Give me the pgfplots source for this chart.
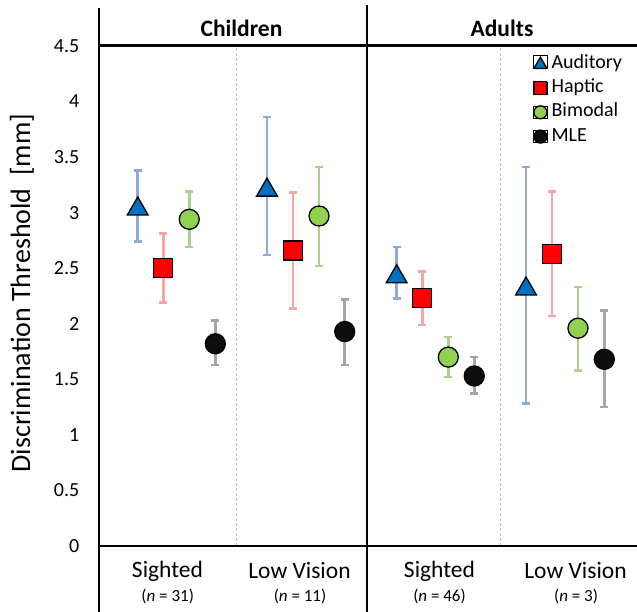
\documentclass[border=0pt]{standalone}
\usepackage{fontspec}
\setmainfont{Carlito}
\usepackage{pgfplots}
\usepackage{pgfplotstable}
\pgfplotsset{compat=1.18}
\definecolor{audC}{HTML}{0070C0}
\definecolor{hapC}{HTML}{FF0000}
\definecolor{bimC}{HTML}{92D050}
\definecolor{mleC}{HTML}{0D0D0D}
\definecolor{audE}{HTML}{8EAADB}
\definecolor{hapE}{HTML}{F4A6A0}
\definecolor{bimE}{HTML}{A9D08E}
\definecolor{mleE}{HTML}{A6A6A6}
\definecolor{dashC}{HTML}{BFBFBF}

% x: 0-1 Children Sighted, 1-2 Children Low Vision, 2-3 Adults Sighted, 3-4 Adults Low Vision
\pgfplotstableread{
x     y     ep    em
0.288 3.06  0.32  0.32
1.249 3.23  0.63  0.61
2.213 2.45  0.24  0.22
3.175 2.34  1.07  1.06
}\auditory
\pgfplotstableread{
x     y     ep    em
0.478 2.50  0.31  0.31
1.442 2.66  0.52  0.52
2.404 2.23  0.24  0.24
3.368 2.63  0.56  0.56
}\haptic
\pgfplotstableread{
x     y     ep    em
0.671 2.94  0.25  0.25
1.636 2.97  0.44  0.45
2.597 1.70  0.18  0.18
3.561 1.96  0.37  0.38
}\bimodal
\pgfplotstableread{
x     y     ep    em
0.865 1.82  0.21  0.19
1.827 1.93  0.29  0.30
2.790 1.53  0.17  0.16
3.757 1.68  0.44  0.43
}\mle

\pgfplotsset{
  ebar/.style={forget plot, only marks, mark=none,
    error bars/.cd, y dir=both, y explicit, error mark=|,
    error bar style={draw=#1, line width=2.8pt},
    error mark options={draw=#1, line width=2.6pt, mark size=4pt}},
  legimg/.style={legend image code/.code={\path (-7pt,-6pt) rectangle (7pt,6pt);\draw[##1, mark size=#1] plot coordinates {(0pt,0pt)};}},
}

\begin{document}
\begin{tikzpicture}
\begin{axis}[
  anchor=origin,
  scale only axis, width=538pt, height=500pt,
  xmin=0, xmax=4, ymin=0, ymax=4.5,
  axis line style={draw=none},
  xtick=\empty,
  ytick={0,0.5,...,4.5},
  major tick length=0pt,
  tick style={draw=none},
  /pgf/number format/assume math mode=true,
  yticklabel style={font=\fontsize{20}{23}\selectfont, anchor=east, inner sep=0pt, xshift=-19.5pt},
  clip=false,
  legend style={at={(rel axis cs:0.8067,0.984)}, anchor=north west, draw=none, fill=none,
    inner sep=0pt, column sep=3pt,
    font=\fontsize{20}{24}\selectfont, row sep=5.3pt,
    nodes={inner sep=1pt, text height=13pt, text depth=4pt}},
  legend cell align=left,
]
\coordinate (O) at (rel axis cs:0,0);
% error bars first (beneath markers)
\addplot[ebar=audE] table[x=x,y=y,y error plus=ep,y error minus=em]{\auditory};
\addplot[ebar=hapE] table[x=x,y=y,y error plus=ep,y error minus=em]{\haptic};
\addplot[ebar=bimE] table[x=x,y=y,y error plus=ep,y error minus=em]{\bimodal};
\addplot[ebar=mleE] table[x=x,y=y,y error plus=ep,y error minus=em]{\mle};
% markers
\addplot[only marks, mark=triangle*, mark size=12pt,
  mark options={fill=audC, draw=black, line width=1.3pt, yshift=-3pt},
  legimg=7.5pt, legend image post style={yshift=2pt}]
  table[x=x,y=y]{\auditory};
\addlegendentry{Auditory}
\addplot[only marks, mark=square*, mark size=9.5pt,
  mark options={fill=hapC, draw=black, line width=1.3pt},
  legimg=6.3pt]
  table[x=x,y=y]{\haptic};
\addlegendentry{Haptic}
\addplot[only marks, mark=*, mark size=10pt,
  mark options={fill=bimC, draw=black, line width=1.3pt},
  legimg=6.5pt]
  table[x=x,y=y]{\bimodal};
\addlegendentry{Bimodal}
\addplot[only marks, mark=*, mark size=10pt,
  mark options={fill=mleC, draw=black, line width=1.3pt},
  legimg=6.5pt]
  table[x=x,y=y]{\mle};
\addlegendentry{MLE}
\end{axis}
\pgfresetboundingbox
\begin{scope}[shift={(O)}, xshift=-99pt, yshift=-66pt]
\path[use as bounding box] (0pt,0pt) rectangle (637pt,612pt);
% frame lines
\draw[dashC, line width=1pt, dash pattern=on 3pt off 2pt] (236.7pt,66pt) -- (236.7pt,566pt);
\draw[dashC, line width=1pt, dash pattern=on 3pt off 2pt] (500pt,66pt) -- (500pt,566pt);
\draw[black, line width=2.2pt] (99pt,0pt) -- (99pt,604pt);
\draw[black, line width=2.2pt] (367pt,0pt) -- (367pt,607pt);
\draw[black, line width=2.2pt] (98pt,566.5pt) -- (637pt,566.5pt);
\draw[black, line width=2.2pt] (98pt,66pt) -- (637pt,66pt);
% group titles
\node[font=\fontsize{23.5}{27}\selectfont\bfseries] at (241.5pt,584pt) {Children};
\node[font=\fontsize{23.5}{27}\selectfont\bfseries] at (502pt,584pt) {Adults};
% category labels
\node[font=\fontsize{23.5}{27}\selectfont] at (167.5pt,41pt) {Sighted};
\node[font=\fontsize{23.5}{27}\selectfont] at (299.5pt,41pt) {Low Vision};
\node[font=\fontsize{23.5}{27}\selectfont] at (439.5pt,41pt) {Sighted};
\node[font=\fontsize{23.5}{27}\selectfont] at (575.5pt,41pt) {Low Vision};
\node[font=\fontsize{17}{20}\selectfont] at (167.7pt,16pt) {(\textit{n} = 31)};
\node[font=\fontsize{17}{20}\selectfont] at (300pt,16pt) {(\textit{n} = 11)};
\node[font=\fontsize{17}{20}\selectfont] at (439.5pt,16pt) {(\textit{n} = 46)};
\node[font=\fontsize{17}{20}\selectfont] at (576pt,16pt) {(\textit{n} = 3)};
% y label
\node[font=\fontsize{28}{32}\selectfont, rotate=90] at (22pt,319pt) {Discrimination Threshold\ \ [mm]};
\end{scope}
\end{tikzpicture}
\end{document}
